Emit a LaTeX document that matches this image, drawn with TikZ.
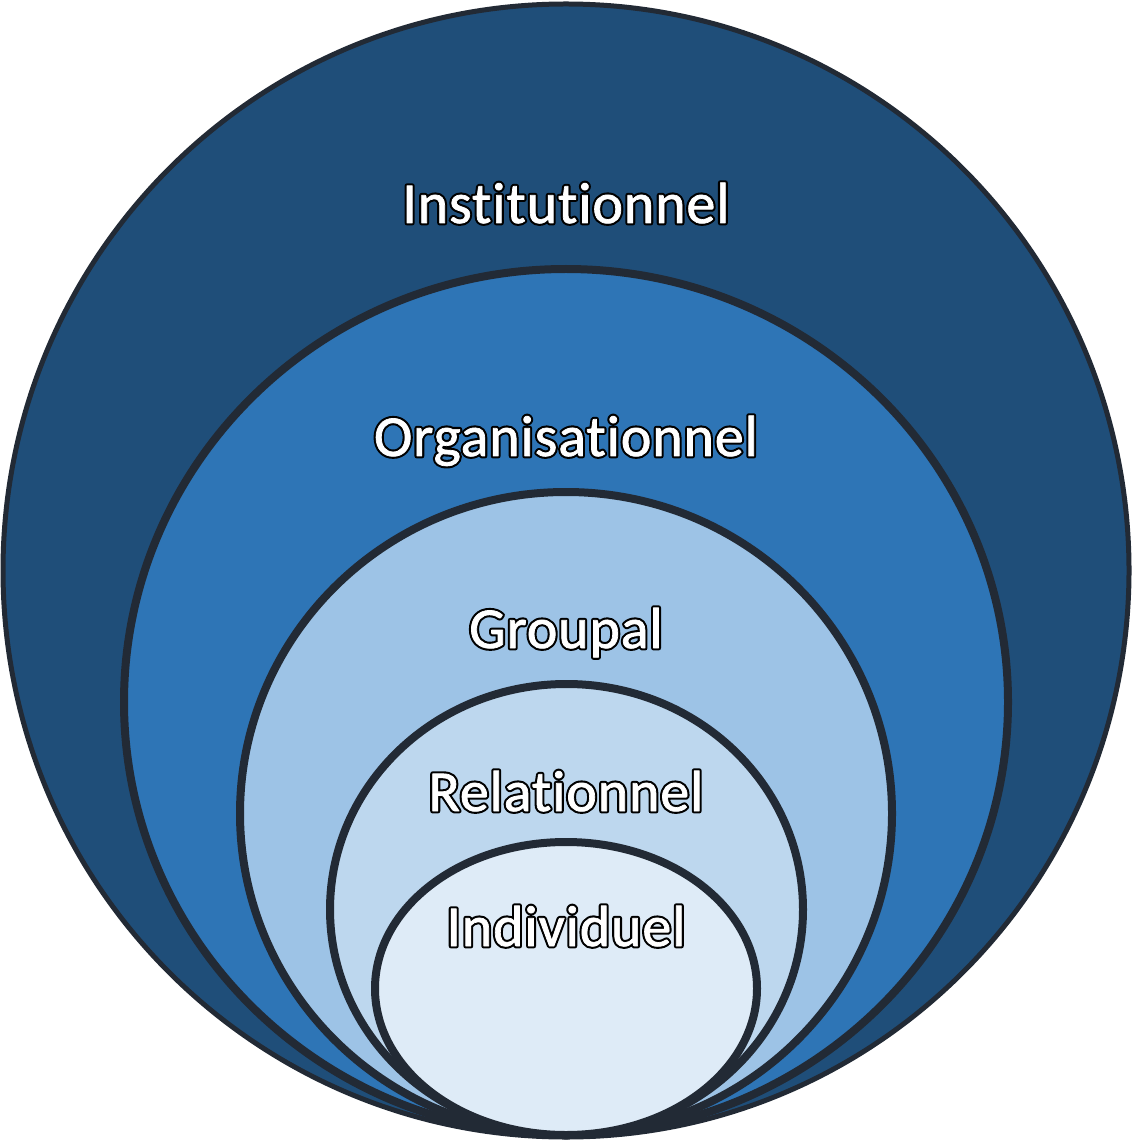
\documentclass[tikz,border=0pt]{standalone}
\usepackage{fontspec}
\setmainfont[Ligatures={NoCommon},LetterSpace=1.5]{Carlito}
\definecolor{cA}{HTML}{1F4E79}
\definecolor{cB}{HTML}{2E75B6}
\definecolor{cC}{HTML}{9DC3E6}
\definecolor{cD}{HTML}{BDD7EE}
\definecolor{cE}{HTML}{DEEBF7}
\definecolor{edge}{HTML}{222A35}
\newcommand{\outlinetext}[1]{\rlap{\special{pdf:literal direct 1 Tr 2.8 w 1 j 0 0 0 RG}#1\special{pdf:literal direct 0 Tr}}\special{pdf:literal direct 2 Tr 0.4 w 1 1 1 RG}#1\special{pdf:literal direct 0 Tr}}
\begin{document}
\begin{tikzpicture}[x=0.02cm,y=-0.02cm,
  ring/.style={draw=edge,line width=0.16cm},
  lbl/.style={anchor=base,inner sep=0pt,font=\fontsize{33}{38}\selectfont,text=white}]
\useasboundingbox (0,0) rectangle (1132,1141);
\path[ring,fill=cA,line width=0.1cm] (566,570.5) ellipse [x radius=563,y radius=566.5];
\path[ring,fill=cB] (566,702) ellipse [x radius=442,y radius=433];
\path[ring,fill=cC] (566,813.5) ellipse [x radius=326,y radius=321.5];
\path[ring,fill=cD] (566.5,909.5) ellipse [x radius=236.5,y radius=225.5];
\path[ring,fill=cE] (566,988.5) ellipse [x radius=191,y radius=146.5];
\node[lbl] (inst) at (566,223) {\outlinetext{Institutionnel}};
\node[lbl] (org) at (566,456) {\outlinetext{Organisationnel}};
\node[lbl] (grp) at (566,648) {\outlinetext{Groupal}};
\node[lbl] (rel) at (566,811) {\outlinetext{Relationnel}};
\node[lbl] (ind) at (566,946) {\outlinetext{Individuel}};
\end{tikzpicture}
\end{document}
